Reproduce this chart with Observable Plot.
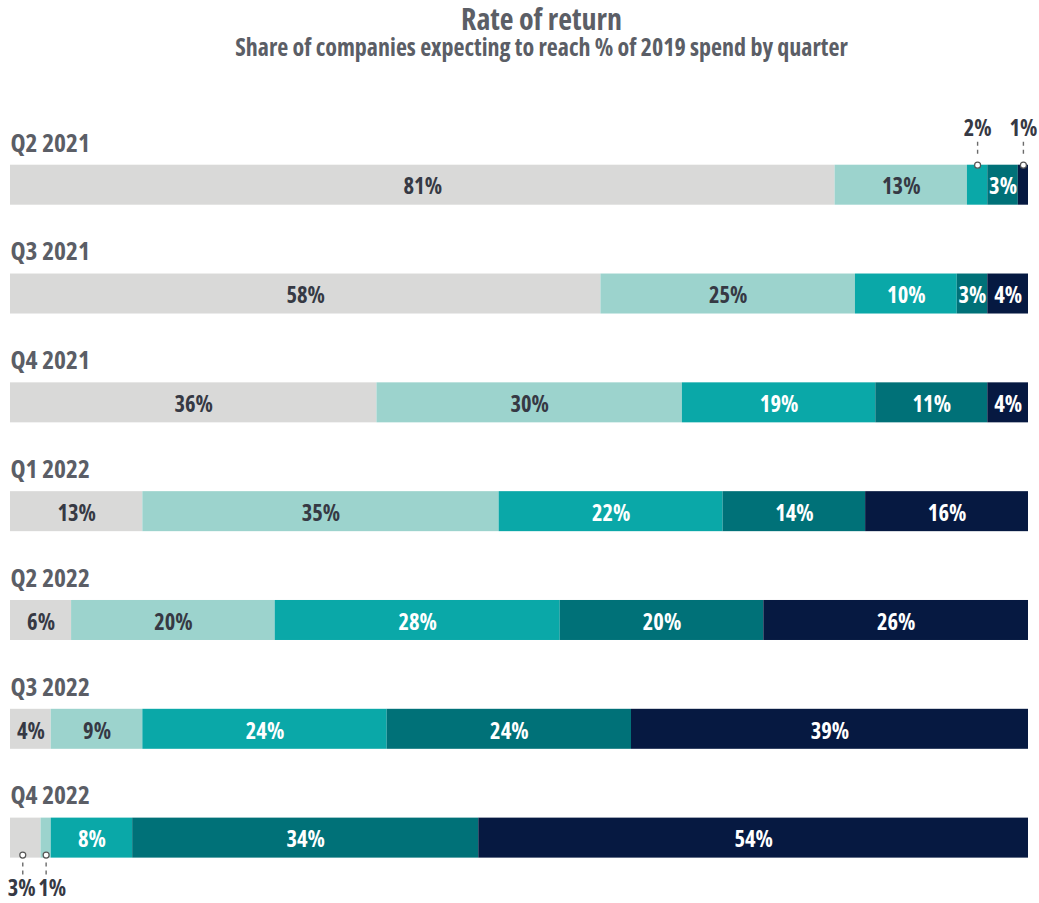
<!DOCTYPE html>
<html><head><meta charset="utf-8">
<script src="https://cdn.jsdelivr.net/npm/d3@7"></script>
<script src="https://cdn.jsdelivr.net/npm/@observablehq/plot@0.6"></script>
<style>
body{margin:0;background:#fff;overflow:hidden;font-family:"Open Sans","Liberation Sans Narrow",sans-serif;font-stretch:75%;font-weight:700;}
#head{position:relative;height:70px;}
#title{position:absolute;left:44px;right:0;top:4px;text-align:center;font-size:30px;line-height:30px;color:#5b5e66;}
#subtitle{position:absolute;left:44px;right:0;top:35px;text-align:center;font-size:24px;line-height:24px;color:#5b5e66;}
svg text{font-stretch:75%;}
</style></head>
<body>
<div id="head"><div id="title">Rate of return</div><div id="subtitle">Share of companies expecting to reach % of 2019 spend by quarter</div></div>
<div id="chart"></div>
<script>
const quarters = ["Q2 2021","Q3 2021","Q4 2021","Q1 2022","Q2 2022","Q3 2022","Q4 2022"];
const categories = ["Level 1","Level 2","Level 3","Level 4","Level 5"];
const level1 = [81,58,36,13,6,4,3];
const level2 = [13,25,30,35,20,9,1];
const level3 = [2,10,19,22,28,24,8];
const level4 = [3,3,11,14,20,24,34];
const level5 = [1,4,4,16,26,39,54];
const colors = ["#d9d9d8","#9cd3cd","#0aa8a8","#007178","#061941"];
const labelColors = ["#363944","#363944","#ffffff","#ffffff","#ffffff"];
const callouts = [
  {quarter:"Q2 2021", cat:2, side:"top"},
  {quarter:"Q2 2021", cat:4, side:"top"},
  {quarter:"Q4 2022", cat:0, side:"bottom"},
  {quarter:"Q4 2022", cat:1, side:"bottom"}
];
const series = [level1, level2, level3, level4, level5];

const rows = [];
quarters.forEach((q, i) => {
  categories.forEach((c, k) => {
    const out = callouts.some(o => o.quarter === q && o.cat === k);
    rows.push({quarter:q, cat:c, value:series[k][i], color:colors[k], tcolor:labelColors[k], inside:!out});
  });
});
const callRows = callouts.map(o => {
  const i = quarters.indexOf(o.quarter);
  let start = 0;
  for (let k = 0; k < o.cat; k++) start += series[k][i];
  const v = series[o.cat][i];
  return {...o, value:v, mid:start + v / 2};
});
const topCalls = callRows.filter(d => d.side === "top");
const bottomCalls = callRows.filter(d => d.side === "bottom");

const step = 108.82, c0 = 114.7;
const bandInset = (step - 40) / 2;
const dash = {stroke:"#6b6b6b", strokeWidth:1.4, strokeDasharray:"4,4"};
const dotStyle = {r:3, fill:"#ffffff", stroke:"#555", strokeWidth:1.2};
const font = "'Open Sans','Liberation Sans Narrow',sans-serif";
const pctSize = 22.5;
const bottomDx = [-3, 0];
const bottomTextDx = [-4, 6];

const chart = Plot.plot({
  width:1039, height:833,
  marginLeft:10, marginRight:11, marginTop:0, marginBottom:0,
  x:{domain:[0,100], axis:null},
  y:{type:"band", domain:quarters, range:[c0 - step/2, c0 + 6*step + step/2], padding:0, round:false, axis:null},
  color:{type:"identity"},
  style:{fontFamily:font, fontWeight:700, background:"#fff"},
  marks:[
    Plot.barX(rows, Plot.stackX({x:"value", y:"quarter", z:"cat", fill:"color", insetTop:bandInset, insetBottom:bandInset})),
    Plot.text(rows, Plot.stackX({x:"value", y:"quarter", z:"cat", text:d => d.inside ? d.value + "%" : null, fill:"tcolor", fontSize:pctSize, fontWeight:700, dy:2})),
    Plot.text(quarters, {y:d => d, text:d => d, frameAnchor:"left", textAnchor:"start", lineAnchor:"bottom", dy:-33.7, fontSize:25.5, fontWeight:700, fill:"#5b5e66"}),
    Plot.tickX(topCalls, {x:"mid", y:"quarter", insetTop:step/2 - 43, insetBottom:step/2 + 27, ...dash}),
    Plot.dot(topCalls, {x:"mid", y:"quarter", dy:-20, ...dotStyle}),
    Plot.text(topCalls, {x:"mid", y:"quarter", text:d => d.value + "%", lineAnchor:"bottom", dy:-49, fontSize:pctSize, fontWeight:700, fill:"#363944"}),
    ...bottomCalls.map((d, i) => [
      Plot.tickX([d], {x:"mid", y:"quarter", dx:bottomDx[i], insetTop:step/2 + 25, insetBottom:step/2 - 40, ...dash}),
      Plot.dot([d], {x:"mid", y:"quarter", dx:bottomDx[i], dy:17, ...dotStyle}),
      Plot.text([d], {x:"mid", y:"quarter", dx:bottomTextDx[i], text:d => d.value + "%", lineAnchor:"bottom", dy:58, fontSize:pctSize, fontWeight:700, fill:"#363944"})
    ])
  ]
});
document.getElementById("chart").appendChild(chart);
</script>
</body></html>
